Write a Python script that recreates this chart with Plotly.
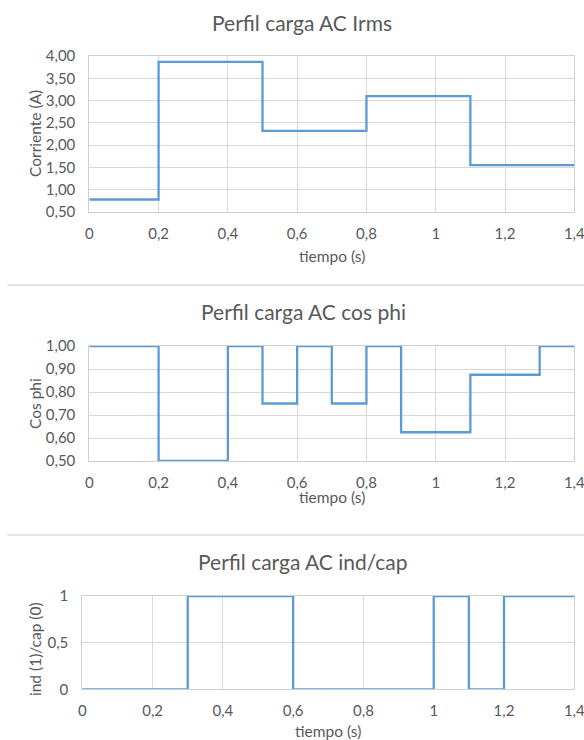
import plotly.graph_objects as go

# --- data -------------------------------------------------------------
# step boundaries (s) and the value held from each boundary to the next
irms_t = [0, 0.2, 0.5, 0.8, 1.1, 1.4]
irms_a = [0.78, 3.87, 2.32, 3.10, 1.55, 1.55]

cosphi_t = [0, 0.2, 0.4, 0.5, 0.6, 0.7, 0.8, 0.9, 1.1, 1.3, 1.4]
cosphi_v = [1.00, 0.50, 1.00, 0.75, 1.00, 0.75, 1.00, 0.625, 0.875, 1.00, 1.00]

indcap_t = [0, 0.3, 0.6, 1.0, 1.1, 1.2, 1.4]
indcap_v = [0, 1, 0, 1, 0, 1, 1]

time_ticks = [0, 0.2, 0.4, 0.6, 0.8, 1.0, 1.2, 1.4]
time_labels = ["0", "0,2", "0,4", "0,6", "0,8", "1", "1,2", "1,4"]

titles = ["Perfil carga AC Irms", "Perfil carga AC cos phi", "Perfil carga AC ind/cap"]
y_titles = ["Corriente (A)", "Cos phi", "ind (1)/cap (0)"]
x_title = "tiempo (s)"

# --- style ------------------------------------------------------------
W, H = 584, 740
FONT = "Lato"
TXT = "#595959"
GRID = "#D9D9D9"
AXIS = "#CFCFCF"
BLUE = "#5B9BD5"
TICK_SIZE = 15
LABEL_SIZE = 15.5
TITLE_SIZE = 21


def px(x):
    return x / W


def py(y):
    return 1 - y / H


fig = go.Figure()

# one trace per panel, drawn as steps
series = [(irms_t, irms_a), (cosphi_t, cosphi_v), (indcap_t, indcap_v)]
for i, (t, v) in enumerate(series, start=1):
    fig.add_trace(go.Scatter(
        x=t, y=v, mode="lines", line=dict(color=BLUE, width=2.3, shape="hv"),
        xaxis=f"x{i if i > 1 else ''}", yaxis=f"y{i if i > 1 else ''}",
        showlegend=False, hoverinfo="skip",
    ))

# panel geometry in pixels: left, right, top, bottom
panels = [
    (89.3, 574.3, 56, 212),
    (89.3, 574.3, 346, 461),
    (82.3, 574.3, 596, 689.3),
]
y_ranges = [[0.5, 4], [0.5, 1], [0, 1]]
y_dticks = [0.5, 0.1, 0.5]
y_formats = [".2f", ".2f", ""]

layout = dict(
    template="none",
    width=W, height=H, margin=dict(l=0, r=0, t=0, b=0, pad=0),
    paper_bgcolor="white", plot_bgcolor="white",
    separators=",.", font=dict(family=FONT, color=TXT, size=TICK_SIZE),
    showlegend=False,
)

for i, ((l, r, t, b), yr, dt, fmt) in enumerate(zip(panels, y_ranges, y_dticks, y_formats), start=1):
    sx = "xaxis" if i == 1 else f"xaxis{i}"
    sy = "yaxis" if i == 1 else f"yaxis{i}"
    ax_anchor = "y" if i == 1 else f"y{i}"
    ay_anchor = "x" if i == 1 else f"x{i}"
    layout[sx] = dict(
        domain=[px(l), px(r)], anchor=ax_anchor, range=[0, 1.4], automargin=False,
        tickmode="array", tickvals=time_ticks, ticktext=time_labels,
        ticklabeloverflow="allow",
        showgrid=True, gridcolor=GRID, gridwidth=1, zeroline=False,
        showline=True, linecolor=AXIS, linewidth=1, mirror=True,
        ticks="", ticklabelstandoff=8, tickfont=dict(size=TICK_SIZE, color=TXT),
    )
    layout[sy] = dict(
        domain=[py(b), py(t)], anchor=ay_anchor, range=yr, dtick=dt, tick0=0,
        automargin=False,
        tickformat=fmt, showgrid=True, gridcolor=GRID, gridwidth=1, zeroline=False,
        showline=True, linecolor=AXIS, linewidth=1, mirror=True,
        ticks="", ticklabelstandoff=10, tickfont=dict(size=TICK_SIZE, color=TXT),
    )

fig.update_layout(**layout)

# chart titles, axis titles
title_pos = [(302, 22.7), (303, 311.7), (302.6, 561.7)]
xt_pos = [(331.8, 256), (331.8, 496.7), (328.3, 730.5)]
yt_pos = [(35, 134), (35, 404), (35, 649)]

annotations = []
for txt, (x, y) in zip(titles, title_pos):
    annotations.append(dict(text=txt, x=px(x), y=py(y), xref="paper", yref="paper",
                            showarrow=False, xanchor="center", yanchor="middle",
                            font=dict(size=TITLE_SIZE, color=TXT, family=FONT)))
for (x, y) in xt_pos:
    annotations.append(dict(text=x_title, x=px(x), y=py(y), xref="paper", yref="paper",
                            showarrow=False, xanchor="center", yanchor="middle",
                            font=dict(size=LABEL_SIZE, color=TXT, family=FONT)))
for txt, (x, y) in zip(y_titles, yt_pos):
    annotations.append(dict(text=txt, x=px(x), y=py(y), xref="paper", yref="paper",
                            showarrow=False, xanchor="center", yanchor="middle", textangle=-90,
                            font=dict(size=LABEL_SIZE, color=TXT, family=FONT)))
fig.update_layout(annotations=annotations)

# thin separators between the stacked charts
for y in (285, 535):
    fig.add_shape(type="line", xref="paper", yref="paper", x0=px(7.5), x1=1, y0=py(y), y1=py(y),
                  line=dict(color="#DDDDDD", width=1.5))

fig.write_html("out.html")
